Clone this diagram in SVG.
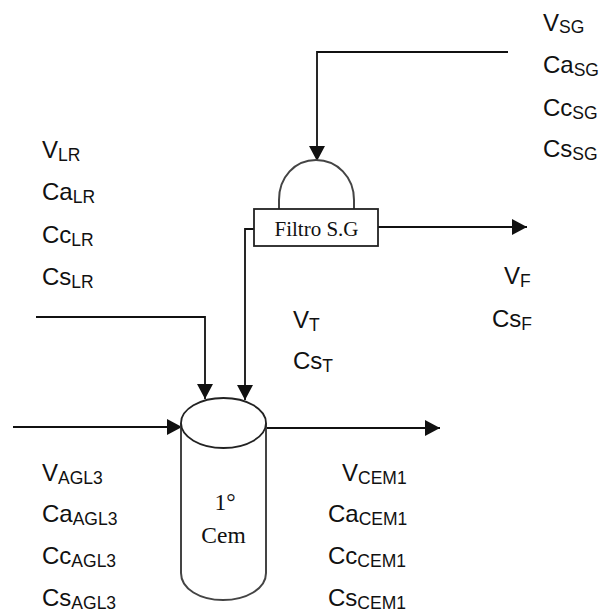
<svg xmlns="http://www.w3.org/2000/svg" width="602" height="614" viewBox="0 0 602 614">
<defs>
<style>
.l{font-family:"Liberation Sans",Arial,sans-serif;font-size:24px;fill:#111}
.l tspan{font-size:17.5px}
.s{font-family:"Liberation Serif","Times New Roman",serif;fill:#111;text-anchor:middle}
.c{fill:none;stroke:#111;stroke-width:1.8}
.n{fill:#fff;stroke:#222;stroke-width:1.8}
.g{fill:none;stroke:#444;stroke-width:2}
</style>
<marker id="a" markerUnits="userSpaceOnUse" markerWidth="16" markerHeight="16" refX="15" refY="8" orient="auto"><path d="M0 0L15 8L0 16Z" fill="#111"/></marker>
</defs>
<rect width="602" height="614" fill="#fff"/>
<g id="connectors">
<path class="c" d="M508 52H317V161" marker-end="url(#a)"/>
<path class="c" d="M378 227H527" marker-end="url(#a)"/>
<path class="c" d="M254 229H245V400" marker-end="url(#a)"/>
<path class="c" d="M36 317H205V399" marker-end="url(#a)"/>
<path class="c" d="M13 427H182" marker-end="url(#a)"/>
<path class="c" d="M265 428H440" marker-end="url(#a)"/>
</g>
<g id="filtro">
<path class="g" d="M279 209V200C279 177 295 160 316 160C337 160 354 177 354 200V209"/>
<rect class="n" x="254" y="209" width="124" height="37"/>
<text class="s" x="316.500" y="236" font-size="21">Filtro S.G</text>
</g>
<g id="cem">
<path class="g" d="M181 423V573C181 589 200 600 223 600C246 600 266 589 266 573V423"/>
<ellipse class="n" cx="223.500" cy="423" rx="42.500" ry="25"/>
<text class="s" x="225" y="510" font-size="23.5">1°</text>
<text class="s" x="223.500" y="543" font-size="23.5">Cem</text>
</g>
<g id="labels-sg">
<text class="l" x="543" y="31">V<tspan dy="2">SG</tspan></text>
<text class="l" x="543" y="73">Ca<tspan dy="3">SG</tspan></text>
<text class="l" x="543" y="116">Cc<tspan dy="3">SG</tspan></text>
<text class="l" x="543" y="157">Cs<tspan dy="3">SG</tspan></text>
</g>
<g id="labels-lr">
<text class="l" x="42" y="158">V<tspan dy="3">LR</tspan></text>
<text class="l" x="42" y="200">Ca<tspan dy="3">LR</tspan></text>
<text class="l" x="42" y="243">Cc<tspan dy="3">LR</tspan></text>
<text class="l" x="42" y="285">Cs<tspan dy="3">LR</tspan></text>
</g>
<g id="labels-f">
<text class="l" x="504" y="284">V<tspan dy="3">F</tspan></text>
<text class="l" x="492" y="327">Cs<tspan dy="3">F</tspan></text>
</g>
<g id="labels-t">
<text class="l" x="293" y="328">V<tspan dy="3">T</tspan></text>
<text class="l" x="293" y="369">Cs<tspan dy="3">T</tspan></text>
</g>
<g id="labels-agl3">
<text class="l" x="42" y="481">V<tspan dy="3">AGL3</tspan></text>
<text class="l" x="42" y="522">Ca<tspan dy="3">AGL3</tspan></text>
<text class="l" x="42" y="564">Cc<tspan dy="3">AGL3</tspan></text>
<text class="l" x="42" y="606">Cs<tspan dy="3">AGL3</tspan></text>
</g>
<g id="labels-cem1">
<text class="l" x="342" y="481">V<tspan dy="3">CEM1</tspan></text>
<text class="l" x="328" y="522">Ca<tspan dy="3">CEM1</tspan></text>
<text class="l" x="328" y="564">Cc<tspan dy="3">CEM1</tspan></text>
<text class="l" x="328" y="606">Cs<tspan dy="3">CEM1</tspan></text>
</g>
</svg>
